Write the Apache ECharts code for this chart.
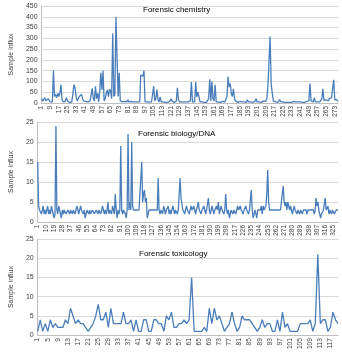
<!DOCTYPE html>
<html>
<head>
<meta charset="utf-8">
<script src="https://cdn.jsdelivr.net/npm/echarts@6/dist/echarts.min.js"></script>
<style>html,body{margin:0;padding:0;background:#fff;}#c{width:342px;height:352px;}</style>
</head>
<body>
<div id="c"></div>
<script>
const titles = ["Forensic chemistry", "Forensic biology/DNA", "Forensic toxicology"];
const yName = "Sample influx";

const chemistry = [
20,8,5,25,10,15,20,12,5,3,
5,152,30,40,25,45,30,45,85,15,
5,10,8,25,10,3,2,3,5,40,
85,72,30,10,5,30,35,40,20,10,
3,8,5,5,3,10,5,68,20,10,
78,20,45,5,60,140,60,150,10,20,
45,60,30,65,55,20,322,30,40,400,
400,30,140,10,5,5,3,8,10,5,
15,5,3,8,12,5,3,5,12,5,
3,5,130,135,125,150,5,3,5,3,
4,3,5,3,78,10,20,62,15,5,
28,5,3,5,8,3,5,3,5,8,
20,10,5,3,5,8,70,15,5,3,
5,3,5,8,5,12,5,8,10,97,
5,10,5,97,28,50,30,5,3,5,
8,3,5,3,5,20,110,10,100,20,
10,85,5,3,5,2,3,5,8,3,
5,3,30,123,74,90,45,30,66,20,
10,5,3,5,8,3,5,3,5,8,
3,15,5,3,5,8,3,5,8,20,
5,3,5,8,3,5,10,3,8,20,
80,85,308,85,80,10,15,5,12,3,
10,15,5,3,5,8,3,5,3,5,
3,5,3,5,8,3,5,3,5,3,
5,8,3,5,3,5,8,5,10,90,
10,5,5,25,5,3,5,8,5,3,
20,66,12,20,15,20,10,20,15,25,
20,108,15,23,15,8
];

const biology = [
15,4,3,3,2,3,4,2,3,2,
3,4,2,3,2,4,3,2,1,2,
24,3,2,4,3,2,1,3,2,3,
3,2,2,3,3,2,3,3,2,3,
3,2,3,4,3,2,3,4,3,3,
2,3,1,2,3,3,2,3,2,2,
3,3,2,2,3,3,2,3,3,2,
3,4,3,2,3,2,3,5,2,3,
3,2,4,3,2,7,3,1,3,2,
3,19,3,2,3,3,2,1,3,22,
3,5,3,20,4,3,3,3,3,3,
3,3,3,3,15,5,7,8,5,6,
1,2,3,3,3,3,3,3,3,3,
3,3,11,3,2,3,3,2,4,3,
2,3,3,4,2,3,2,3,4,3,
2,3,3,2,3,3,11,6,6,3,
3,2,3,4,3,3,2,3,4,3,
3,4,3,2,3,3,5,3,3,2,
3,3,4,3,2,3,3,6,3,2,
3,4,3,2,3,3,4,3,5,2,
3,4,3,3,2,3,7,3,2,3,
1,2,3,3,2,3,3,2,3,4,
3,3,4,3,3,2,3,3,4,3,
3,2,3,3,8,3,1,2,3,3,
1,3,3,3,3,4,2,4,3,3,
4,7,13,5,3,3,3,3,3,3,
3,3,3,3,3,3,3,3,3,9,
5,4,5,3,5,4,3,4,3,2,
3,4,3,3,2,3,3,2,3,3,
2,3,3,3,3,2,3,3,3,3,
3,3,3,2,3,6,4,5,3,3,
1,2,2,3,3,6,3,3,4,2,
3,3,2,3,3,2,2,3,3,3
];

const toxicology = [
1,4,1,3,1,4,2,3,2,2,
2,4,3,7,5,3,4,3,3,2,
1,2,3,5,8,4,4,6,2,7,
3,3,3,3,6,3,3,4,1,4,
1,1,4,4,1,1,4,4,3,3,
1,5,4,6,2,2,3,3,4,3,
4,15,1,1,1,1,2,1,7,3,
7,4,5,3,1,2,3,6,3,1,
2,5,4,4,4,3,2,1,2,4,
2,3,3,1,1,4,1,6,2,3,
1,1,1,1,3,3,3,3,4,1,
3,21,3,4,4,1,2,6,4,3
];

const chemTicks = {min: 0, max: 450, interval: 50};
const smallTicks = {min: 0, max: 25, interval: 5};

function cats(n){ const a=[]; for(let i=1;i<=n;i++) a.push(String(i)); return a; }

const FONT = '"Liberation Sans", Arial, sans-serif';
const txt = '#404040';
const gridColor = '#d9d9d9';
const axisColor = '#bfbfbf';
const lineColor = '#4a7ebb';

const panels = [
  {data: chemistry, ticks: chemTicks, grid: {left: 27, top: 6, width: 311, height: 97}, every: 8, title: {left: 143, top: 6}},
  {data: biology, ticks: smallTicks, grid: {left: 22, top: 122, width: 316, height: 100}, every: 9, title: {left: 138, top: 130}},
  {data: toxicology, ticks: smallTicks, grid: {left: 23, top: 239, width: 315, height: 98}, every: 4, title: {left: 139, top: 250}}
];

const option = {
  animation: false,
  backgroundColor: '#ffffff',
  textStyle: {fontFamily: FONT},
  title: panels.map((p, i) => ({
    text: titles[i], left: p.title.left, top: p.title.top, padding: 0,
    textStyle: {fontSize: 8, fontWeight: 'normal', color: '#000', fontFamily: FONT}
  })),
  grid: panels.map(p => Object.assign({containLabel: false}, p.grid)),
  xAxis: panels.map((p, i) => ({
    type: 'category', gridIndex: i, data: cats(p.data.length), boundaryGap: false,
    axisLine: {show: true, lineStyle: {color: axisColor, width: 1}},
    axisTick: {show: false},
    axisLabel: {interval: p.every - 1, rotate: 90, fontSize: 6.5, color: txt, margin: 3, fontFamily: FONT},
    splitLine: {show: false}
  })),
  yAxis: panels.map((p, i) => ({
    type: 'value', gridIndex: i, min: p.ticks.min, max: p.ticks.max, interval: p.ticks.interval,
    name: yName, nameLocation: 'middle', nameGap: i === 0 ? 18 : 14,
    nameTextStyle: {fontSize: 7, color: txt, fontFamily: FONT},
    axisLine: {show: true, lineStyle: {color: axisColor, width: 1}},
    axisTick: {show: false},
    axisLabel: {fontSize: 7, color: txt, margin: 4, fontFamily: FONT},
    splitLine: {show: true, lineStyle: {color: gridColor, width: 1}}
  })),
  series: panels.map((p, i) => ({
    type: 'line', xAxisIndex: i, yAxisIndex: i, data: p.data,
    symbol: 'none', lineStyle: {color: lineColor, width: 1.3}, itemStyle: {color: lineColor}
  }))
};

const chart = echarts.init(document.getElementById('c'), null, {renderer: 'canvas'});
chart.setOption(option);
</script>
</body>
</html>
